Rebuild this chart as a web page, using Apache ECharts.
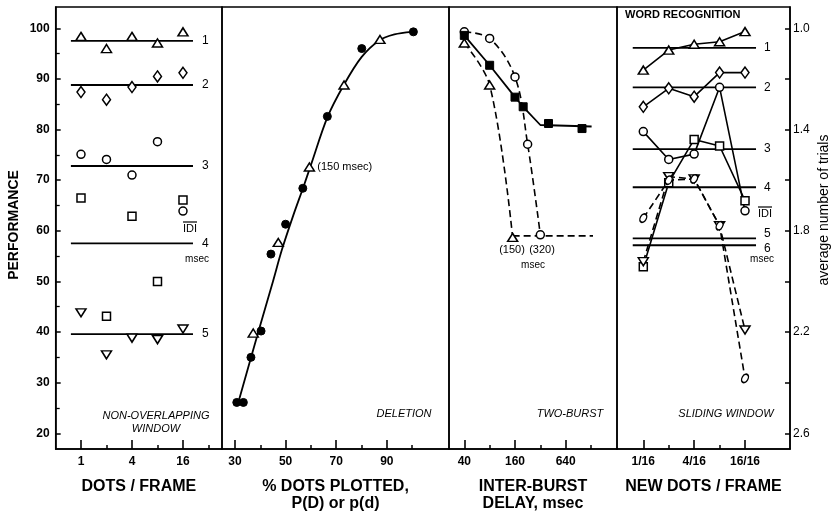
<!DOCTYPE html>
<html><head><meta charset="utf-8">
<script src="https://cdn.jsdelivr.net/npm/echarts@6/dist/echarts.min.js"></script>
<style>html,body{margin:0;padding:0;background:#fff}#c{width:831px;height:514px}</style>
</head><body><div id="c"></div><script>
// ---------- Panel 1: non-overlapping window ----------
const dotsPerFrame = [1, 2, 4, 8, 16];
const nowIdi1 = [98.4, 96.0, 98.4, 97.1, 99.3];
const nowIdi2 = [87.4, 85.9, 88.4, 90.5, 91.2];
const nowIdi3 = [75.1, 74.1, 71.0, 77.6, 63.9];
const nowIdi4 = [66.5, 43.1, 62.9, 50.0, 66.1];
const nowIdi5 = [43.8, 35.5, 38.8, 38.5, 40.6];
const nowLevels = [97.5, 88.8, 72.8, 57.5, 39.6];
const nowLevelSpan = [0.76, 21];
const nowTickLabels = [1, 4, 16];
const nowMinorTicks = [2, 8, 32];
// ---------- Panel 2: deletion ----------
const delFilledX = [30.7, 33.3, 36.3, 40.3, 44.2, 50.0, 56.8, 66.5, 80.1, 100.5];
const delFilledY = [26.1, 26.1, 35.0, 40.2, 55.4, 61.3, 68.4, 82.6, 96.0, 99.3];
const delTriX = [37.2, 47.1, 59.4, 73.1, 87.3];
const delTriY = [39.8, 57.7, 72.6, 88.8, 97.8];
const delFitX = [31.3, 39.2, 45, 48.5, 53, 57, 60, 66.5, 73, 80, 87, 93, 100];
const delFitY = [26.1, 40, 50, 56.2, 63, 68.6, 73, 82.4, 88.8, 94.3, 97.6, 98.8, 99.3];
const delTickLabels = [30, 50, 70, 90];
const delMinorTicks = [40, 60, 80, 100];
// ---------- Panel 3: two-burst ----------
const tbSqDelay = [40, 80, 160, 200, 400, 1000];
const tbSqPerf = [98.6, 92.7, 86.4, 84.5, 81.2, 80.2];
const tbSqFitDelay = [40, 80, 160, 200, 320, 1300];
const tbSqFitPerf = [98.6, 92.7, 86.4, 84.5, 80.9, 80.6];
const tbCircDelay = [40, 80, 160, 226, 320];
const tbCircPerf = [99.3, 98.0, 90.4, 77.1, 59.2];
const tbTriDelay = [40, 80, 150];
const tbTriPerf = [97.1, 88.8, 58.7];
const tbFloorDelay = [150, 1350];
const tbFloorPerf = [59.0, 59.0];
const tbTickLabels = [40, 160, 640];
const tbMinorTicks = [80, 320, 1280];
// ---------- Panel 4: sliding window (average number of trials) ----------
const newDots16 = [1, 2, 4, 8, 16];
const swIdi1 = [1.165, 1.086, 1.063, 1.053, 1.013];
const swIdi2 = [1.310, 1.237, 1.270, 1.175, 1.175];
const swIdi3 = [1.408, 1.518, 1.497, 1.233, 1.721];
const swIdi4 = [1.942, 1.610, 1.439, 1.465, 1.681];
const swIdi5 = [1.922, 1.586, 1.595, 1.78, 2.192];
const swIdi6 = [1.75, 1.60, 1.595, 1.78, 2.383];
const swLevels = [1.077, 1.233, 1.477, 1.628, 1.830, 1.857];
const swLevelSpan = [0.75, 21.6];
const swTickLabels = [1, 4, 16];
const swMinorTicks = [2, 8];
// ---------- Shared axes ----------
const perfTicks = [20, 30, 40, 50, 60, 70, 80, 90, 100];
const perfMinor = [25, 35, 45, 55, 65, 75, 85, 95];
const trialTicks = [1.0, 1.2, 1.4, 1.6, 1.8, 2.0, 2.2, 2.4, 2.6];
const trialLabels = [1.0, 1.4, 1.8, 2.2, 2.6];

const L2 = Math.log2;
const K = '#000';
const FONT = 'Liberation Sans';
const hollow = {color: '#fff', borderColor: K, borderWidth: 1.5, opacity: 1};
const filled = {color: K, borderColor: K, borderWidth: 1, opacity: 1};

function pairs(xs, ys, fx) { return xs.map((x, i) => [fx ? fx(x) : x, ys[i]]); }
const f1 = x => L2(x);
const f3 = x => L2(x);
const f4 = x => L2(x / 16);

function sc(xi, yi, data, symbol, size, style, rot) {
  return {type: 'scatter', xAxisIndex: xi, yAxisIndex: yi, data, symbol, symbolSize: size,
    symbolRotate: rot || 0, itemStyle: style, z: 5, silent: true};
}
function ln(xi, yi, data, opts) {
  return Object.assign({type: 'line', xAxisIndex: xi, yAxisIndex: yi, data, symbol: 'none',
    lineStyle: {color: K, width: 1.6}, z: 3, silent: true}, opts || {});
}
function lvl(xi, yi, span, fx, v, txt, lab) {
  return ln(xi, yi, [[fx(span[0]), v], [fx(span[1]), v]], {
    lineStyle: {color: K, width: 1.8}, z: 2,
    endLabel: Object.assign({show: true, formatter: txt, color: K, fontSize: 12, fontFamily: FONT, distance: 9}, lab || {})
  });
}
function mkLine(xi, yi, data, symbol, size, dashed, rot) {
  return {type: 'line', xAxisIndex: xi, yAxisIndex: yi, data, symbol, symbolSize: size, symbolRotate: rot || 0,
    showAllSymbol: true, itemStyle: hollow,
    lineStyle: {color: K, width: 1.6, type: dashed ? [7, 4] : 'solid'}, z: 4, silent: true};
}

const xr = [[-0.992, 5.53], [24.86, 114.58], [4.7183, 11.3457], [-5.034, 1.769]];
const grids = [
  {left: 55.7, top: 7, width: 166.3, height: 442},
  {left: 222, top: 7, width: 227, height: 442},
  {left: 449, top: 7, width: 168, height: 442},
  {left: 617, top: 7, width: 173, height: 442}
].map(g => Object.assign(g, {show: true, borderColor: K, borderWidth: 1.5, backgroundColor: 'transparent', containLabel: false, outerBoundsMode: 'none'}));

const lab = {color: K, fontFamily: FONT, fontSize: 12, fontWeight: 'bold'};
const nameSt = {color: K, fontFamily: FONT, fontSize: 16, fontWeight: 'bold', lineHeight: 17};
function xMain(i, ticks, fmt, name) {
  return {gridIndex: i, type: 'value', min: xr[i][0], max: xr[i][1], position: 'bottom',
    axisLine: {show: true, onZero: false, lineStyle: {color: K, width: 1.5}},
    axisTick: {show: true, inside: true, length: 9, customValues: ticks, lineStyle: {color: K, width: 1.6}},
    axisLabel: Object.assign({customValues: ticks, formatter: fmt, margin: 7}, lab),
    splitLine: {show: false}, name, nameLocation: 'middle', nameGap: 29, nameTextStyle: nameSt};
}
function xMinor(i, ticks) {
  return {gridIndex: i, type: 'value', min: xr[i][0], max: xr[i][1], position: 'bottom',
    axisLine: {show: false, onZero: false},
    axisTick: {show: true, inside: true, length: 4, customValues: ticks, lineStyle: {color: K, width: 1.5}},
    axisLabel: {show: false}, splitLine: {show: false}};
}
const yMin = 16.9, yMax = 104.21;
function yHidden(i) {
  return {gridIndex: i, type: 'value', min: yMin, max: yMax, show: false, axisLine: {onZero: false}, splitLine: {show: false}};
}

const xAxis = [
  xMain(0, nowTickLabels.map(f1), v => String(Math.round(2 ** v)), 'DOTS / FRAME'),
  xMain(1, delTickLabels, v => String(v), '% DOTS PLOTTED,\nP(D) or p(d)'),
  xMain(2, tbTickLabels.map(f3), v => String(Math.round(2 ** v)), 'INTER-BURST\nDELAY, msec'),
  xMain(3, swTickLabels.map(f4), v => Math.round(16 * 2 ** v) + '/16', 'NEW DOTS / FRAME'),
  xMinor(0, nowMinorTicks.map(f1)),
  xMinor(1, delMinorTicks),
  xMinor(2, tbMinorTicks.map(f3)),
  xMinor(3, swMinorTicks.map(f4))
];
const yAxis = [
  {gridIndex: 0, type: 'value', min: yMin, max: yMax, position: 'left',
    axisLine: {show: true, onZero: false, lineStyle: {color: K, width: 1.5}},
    axisTick: {show: true, inside: true, length: 5, customValues: perfTicks, lineStyle: {color: K, width: 1.5}},
    axisLabel: Object.assign({customValues: perfTicks, margin: 6}, lab), splitLine: {show: false}},
  yHidden(1), yHidden(2), yHidden(3),
  {gridIndex: 3, type: 'value', min: 0.9158, max: 2.662, inverse: true, position: 'right',
    axisLine: {show: true, onZero: false, lineStyle: {color: K, width: 1.5}},
    axisTick: {show: true, inside: true, length: 5, customValues: trialTicks, lineStyle: {color: K, width: 1.5}},
    axisLabel: {customValues: trialLabels, formatter: v => v.toFixed(1), margin: 3, color: K, fontFamily: FONT, fontSize: 12},
    splitLine: {show: false}},
  {gridIndex: 0, type: 'value', min: yMin, max: yMax, position: 'left',
    axisLine: {show: false, onZero: false},
    axisTick: {show: true, inside: true, length: 4, customValues: perfMinor, lineStyle: {color: K, width: 1.3}},
    axisLabel: {show: false}, splitLine: {show: false}}
];

const series = [];
// Panel 1
nowLevels.forEach((v, i) => series.push(lvl(0, 0, nowLevelSpan, f1, v, String(i + 1))));
series.push(sc(0, 0, pairs(dotsPerFrame, nowIdi1, f1), 'triangle', [10, 8], hollow));
series.push(sc(0, 0, pairs(dotsPerFrame, nowIdi2, f1), 'diamond', [8, 11], hollow));
series.push(sc(0, 0, pairs(dotsPerFrame, nowIdi3, f1), 'circle', 8, hollow));
series.push(sc(0, 0, pairs(dotsPerFrame, nowIdi4, f1), 'rect', 8, hollow));
series.push(sc(0, 0, pairs(dotsPerFrame, nowIdi5, f1), 'triangle', [10, 8], hollow, 180));
// Panel 2
series.push(ln(1, 1, pairs(delFitX, delFitY), {smooth: 0.3, lineStyle: {color: K, width: 1.8}}));
series.push(sc(1, 1, pairs(delFilledX, delFilledY), 'circle', 8, filled));
const triData = pairs(delTriX, delTriY).map((p, i) => i === 2 ?
  {value: p, label: {show: true, position: 'right', distance: 2, formatter: '(150 msec)', color: K, fontFamily: FONT, fontSize: 11}} : p);
series.push(sc(1, 1, triData, 'triangle', [10, 8], hollow));
// Panel 3
series.push(ln(2, 2, pairs(tbSqFitDelay, tbSqFitPerf, f3), {lineStyle: {color: K, width: 1.8}}));
series.push(sc(2, 2, pairs(tbSqDelay, tbSqPerf, f3), 'rect', 8, filled));
series.push(ln(2, 2, pairs(tbFloorDelay, tbFloorPerf, f3), {lineStyle: {color: K, width: 1.6, type: [7, 4]}}));
series.push(mkLine(2, 2, pairs(tbCircDelay, tbCircPerf, f3), 'circle', 8, true));
series.push(mkLine(2, 2, pairs(tbTriDelay, tbTriPerf, f3), 'triangle', [10, 8], true));
series.forEach(s => { if (s.xAxisIndex === 2 && s.type === 'line' && s.symbol !== 'none') s.smooth = 0.35; });
// Panel 4
swLevels.forEach((v, i) => series.push(lvl(3, 4, swLevelSpan, f4, v, String(i + 1),
  i === 4 ? {offset: [0, -5], distance: 8} : i === 5 ? {offset: [0, 3], distance: 8} : {distance: 8})));
series.push(mkLine(3, 4, pairs(newDots16, swIdi1, f4), 'triangle', [10, 8], false));
series.push(mkLine(3, 4, pairs(newDots16, swIdi2, f4), 'diamond', [8, 11], false));
series.push(mkLine(3, 4, pairs(newDots16, swIdi3, f4), 'circle', 8, false));
series.push(mkLine(3, 4, pairs(newDots16, swIdi4, f4), 'rect', 8, false));
series.push(mkLine(3, 4, pairs(newDots16, swIdi5, f4), 'triangle', [10, 8], true, 180));
series.push(mkLine(3, 4, pairs(newDots16, swIdi6, f4), 'circle', [6, 9], true, -30));

const it = {fontFamily: FONT, fontSize: 11, fontStyle: 'italic', fill: K, textAlign: 'center', textVerticalAlign: 'middle'};
const nt = {fontFamily: FONT, fontSize: 11, fill: K, textAlign: 'center', textVerticalAlign: 'middle'};
function T(x, y, text, st) { return {type: 'text', x, y, style: Object.assign({text}, st), silent: true}; }
function OL(x1, x2, y) { return {type: 'line', shape: {x1, y1: y, x2, y2: y}, style: {stroke: K, lineWidth: 1.2}, silent: true}; }
const graphic = [
  T(14.5, 225, 'PERFORMANCE', {fontFamily: FONT, fontSize: 14, fontWeight: 'bold', fill: K, textAlign: 'center', textVerticalAlign: 'middle'}),
  T(824, 210, 'average number of trials', {fontFamily: FONT, fontSize: 14, fill: K, textAlign: 'center', textVerticalAlign: 'middle'}),
  T(156, 416, 'NON-OVERLAPPING', it), T(156, 429, 'WINDOW', it),
  T(190, 229, 'IDI', nt), OL(183, 197, 222), T(197, 259, 'msec', Object.assign({}, nt, {fontSize: 10})),
  T(404, 414, 'DELETION', it),
  T(570, 414, 'TWO-BURST', it),
  T(512, 250, '(150)', nt), T(542, 250, '(320)', nt), T(533, 265, 'msec', Object.assign({}, nt, {fontSize: 10})),
  T(625, 15, 'WORD RECOGNITION', {fontFamily: FONT, fontSize: 11, fontWeight: 'bold', fill: K, textAlign: 'left', textVerticalAlign: 'middle'}),
  T(726, 414, 'SLIDING WINDOW', it),
  T(765, 214, 'IDI', nt), OL(758, 772, 207), T(762, 259, 'msec', Object.assign({}, nt, {fontSize: 10}))
];
graphic[0].rotation = Math.PI / 2;
graphic[1].rotation = Math.PI / 2;

const chart = echarts.init(document.getElementById('c'), null, {renderer: 'canvas'});
chart.setOption({
  animation: false, backgroundColor: '#fff',
  textStyle: {fontFamily: FONT, color: K},
  grid: grids, xAxis, yAxis, series, graphic
});
</script></body></html>
